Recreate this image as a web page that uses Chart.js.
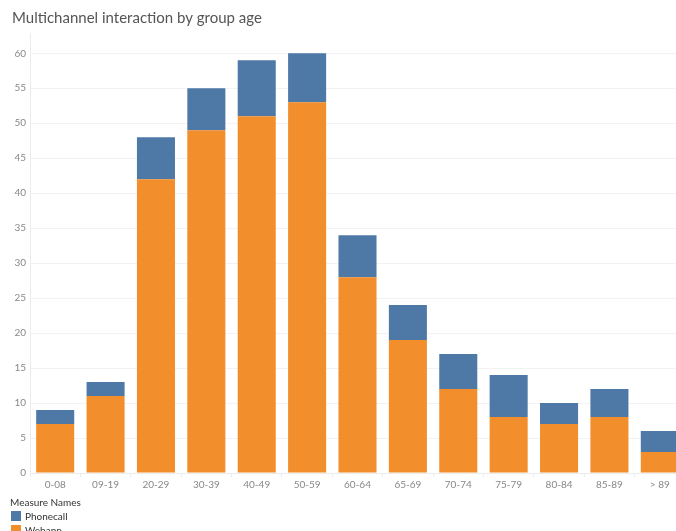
<!DOCTYPE html>
<html>
<head>
<meta charset="utf-8">
<script src="https://cdn.jsdelivr.net/npm/chart.js@4"></script>
<style>
  html, body { margin: 0; padding: 0; background: #fff; overflow: hidden; }
  #wrap { position: relative; width: 690px; height: 531px; }
  #legend { position: absolute; left: 10px; top: 495px; font-family: Lato, sans-serif; font-size: 10px; color: #333; }
  #legend .head { height: 14px; line-height: 14px; }
  #legend .item { height: 14px; line-height: 14px; display: flex; align-items: center; }
  #legend .sw { width: 10px; height: 10px; margin: 0 4px 0 1px; }
</style>
</head>
<body>
<div id="wrap">
  <canvas id="myChart" width="690" height="531"></canvas>
  <div id="legend">
    <div class="head">Measure Names</div>
    <div class="item"><span class="sw" style="background:#4e79a7"></span>Phonecall</div>
    <div class="item"><span class="sw" style="background:#f28e2b"></span>Webapp</div>
  </div>
</div>
<script>
const ageGroups = ['0-08', '09-19', '20-29', '30-39', '40-49', '50-59', '60-64', '65-69', '70-74', '75-79', '80-84', '85-89', '> 89'];
const webapp = [7, 11, 42, 49, 51, 53, 28, 19, 12, 8, 7, 8, 3];
const phonecall = [2, 2, 6, 6, 8, 7, 6, 5, 5, 6, 3, 4, 3];

const ctx = document.getElementById('myChart');

new Chart(ctx, {
  type: 'bar',
  data: {
    labels: ageGroups,
    datasets: [
      {
        label: 'Webapp',
        data: webapp,
        backgroundColor: '#f28e2b',
        borderWidth: 0,
        barPercentage: 0.755,
        categoryPercentage: 1,
      },
      {
        label: 'Phonecall',
        data: phonecall,
        backgroundColor: '#4e79a7',
        borderWidth: 0,
        barPercentage: 0.755,
        categoryPercentage: 1,
      },
    ],
  },
  options: {
    responsive: false,
    animation: false,
    layout: { padding: { left: 12, right: 5, bottom: 38 } },
    plugins: {
      legend: { display: false },
      tooltip: { enabled: false },
      title: {
        display: true,
        text: 'Multichannel interaction by group age',
        align: 'start',
        color: '#555',
        font: { family: 'Lato', size: 15, weight: 'normal' },
        padding: { top: 9, bottom: 6 },
      },
    },
    scales: {
      x: {
        stacked: true,
        grid: { drawOnChartArea: false, color: '#ececec', tickLength: 4 },
        border: { color: '#ececec' },
        ticks: { color: '#888', font: { family: 'Lato', size: 10 }, padding: 2, maxRotation: 0 },
        afterFit: (scale) => { scale.height = 20; },
      },
      y: {
        stacked: true,
        min: 0,
        max: 62.9,
        grid: { color: '#f2f2f2', drawTicks: false },
        border: { color: '#ececec' },
        ticks: { stepSize: 5, color: '#888', font: { family: 'Lato', size: 10 }, padding: 4 },
        afterBuildTicks: (scale) => { scale.ticks = scale.ticks.filter((t) => t.value % 5 === 0); },
        afterFit: (scale) => { scale.width = 18; },
      },
    },
  },
});
</script>
</body>
</html>
